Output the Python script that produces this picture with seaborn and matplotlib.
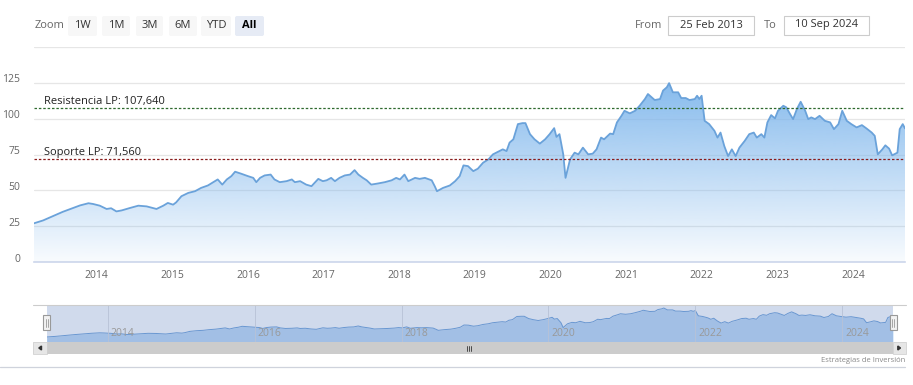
import numpy as np
import pandas as pd
import matplotlib
matplotlib.use("Agg")
import matplotlib.pyplot as plt
import matplotlib.transforms as mtrans
from matplotlib.patches import Rectangle, FancyBboxPatch
import seaborn as sns

# price series (decimal year, price)
years = [2013.17, 2013.29, 2013.42, 2013.55, 2013.69, 2013.78, 2013.89, 2013.95,
         2014.04, 2014.13, 2014.19, 2014.26, 2014.33, 2014.44, 2014.55, 2014.66,
         2014.79, 2014.88, 2014.94, 2015.01, 2015.05, 2015.10, 2015.12, 2015.21,
         2015.30, 2015.38, 2015.47, 2015.54, 2015.60, 2015.66, 2015.72, 2015.78,
         2015.83, 2015.91, 2016.00, 2016.07, 2016.11, 2016.16, 2016.22, 2016.30,
         2016.35, 2016.42, 2016.51, 2016.58, 2016.62, 2016.69, 2016.77, 2016.84,
         2016.93, 2016.99, 2017.04, 2017.10, 2017.15, 2017.21, 2017.28, 2017.35,
         2017.41, 2017.46, 2017.52, 2017.57, 2017.63, 2017.72, 2017.81, 2017.90,
         2017.96, 2018.01, 2018.07, 2018.12, 2018.21, 2018.27, 2018.34, 2018.43,
         2018.47, 2018.50, 2018.58, 2018.67, 2018.74, 2018.80, 2018.85, 2018.91,
         2018.98, 2019.04, 2019.11, 2019.18, 2019.24, 2019.31, 2019.37, 2019.42,
         2019.46, 2019.51, 2019.57, 2019.63, 2019.67, 2019.73, 2019.79, 2019.86,
         2019.93, 2019.99, 2020.05, 2020.08, 2020.12, 2020.17, 2020.20, 2020.26,
         2020.32, 2020.37, 2020.43, 2020.50, 2020.56, 2020.61, 2020.67, 2020.71,
         2020.79, 2020.83, 2020.88, 2020.94, 2020.98, 2021.05, 2021.12, 2021.18,
         2021.25, 2021.29, 2021.34, 2021.38, 2021.45, 2021.49, 2021.54, 2021.57,
         2021.62, 2021.69, 2021.73, 2021.79, 2021.84, 2021.91, 2021.94, 2021.97,
         2022.00, 2022.04, 2022.10, 2022.17, 2022.21, 2022.25, 2022.30, 2022.35,
         2022.40, 2022.45, 2022.50, 2022.57, 2022.63, 2022.69, 2022.73, 2022.79,
         2022.83, 2022.87, 2022.92, 2022.97, 2023.01, 2023.08, 2023.12, 2023.17,
         2023.21, 2023.26, 2023.31, 2023.37, 2023.41, 2023.45, 2023.50, 2023.56,
         2023.63, 2023.70, 2023.75, 2023.81, 2023.86, 2023.92, 2023.98, 2024.05,
         2024.12, 2024.18, 2024.25, 2024.29, 2024.33, 2024.39, 2024.43, 2024.48,
         2024.52, 2024.59, 2024.62, 2024.66, 2024.69]
prices = [27.0, 29.0, 32.0, 35.0, 37.7, 39.5, 41.0, 40.5,
          39.3, 37.0, 37.5, 35.3, 36.0, 37.7, 39.3, 38.8,
          37.0, 39.3, 41.2, 40.0, 41.6, 44.7, 45.9, 48.2,
          49.4, 51.7, 53.4, 55.7, 57.6, 54.0, 57.6, 59.9,
          63.0, 61.6, 59.9, 58.7, 55.7, 58.7, 60.4, 61.0,
          57.6, 55.7, 56.4, 57.6, 55.7, 56.4, 54.0, 52.9,
          58.0, 56.4, 57.0, 58.7, 56.4, 58.7, 60.4, 61.0,
          64.1, 61.0, 58.7, 57.0, 54.0, 54.8, 55.7, 57.0,
          58.7, 57.6, 61.0, 56.4, 58.7, 58.0, 58.7, 57.0,
          52.9, 49.4, 51.7, 53.4, 56.4, 59.9, 67.4, 66.9,
          63.4, 65.1, 69.3, 71.6, 75.1, 77.0, 78.6, 77.4,
          83.3, 85.6, 96.2, 96.9, 96.9, 89.2, 85.6, 82.6,
          85.6, 89.2, 93.4, 87.3, 89.2, 75.1, 58.7, 71.6,
          76.3, 75.1, 79.8, 75.1, 75.6, 78.6, 86.8, 85.6,
          89.6, 89.2, 97.4, 102.0, 105.5, 103.7, 105.5, 109.0,
          113.7, 117.2, 114.9, 113.0, 113.7, 119.6, 121.9, 124.8,
          118.4, 118.4, 114.4, 114.4, 113.0, 113.7, 116.0, 113.7,
          116.0, 98.5, 96.2, 91.5, 86.8, 90.3, 80.9, 73.9,
          78.6, 73.9, 79.8, 84.5, 89.2, 90.3, 86.8, 89.2,
          86.8, 97.4, 102.5, 100.2, 105.5, 109.0, 107.9, 103.2,
          99.7, 106.7, 111.8, 105.5, 99.7, 100.9, 99.7, 102.0,
          98.5, 97.4, 92.7, 96.2, 105.5, 98.5, 96.2, 93.9,
          95.5, 93.2, 90.3, 88.0, 75.1, 78.6, 81.4, 79.1,
          74.4, 76.3, 92.7, 96.2, 93.2]

resistencia = 107.64
soporte = 71.56
y_ticks = [0, 25, 50, 75, 100, 125, 150]
year_ticks = list(range(2014, 2025))
nav_ticks = [2014, 2016, 2018, 2020, 2022, 2024]
zoom_buttons = ["1W", "1M", "3M", "6M", "YTD", "All"]
date_from = "25 Feb 2013"
date_to = "10 Sep 2024"

df = pd.DataFrame({"year": years, "price": prices})

sns.set_style("white")
plt.rcParams["font.family"] = ["Open Sans", "DejaVu Sans"]

W, H = 913, 385
fig = plt.figure(figsize=(W / 100, H / 100), dpi=100)


def box(x0, y0, x1, y1):
    # pixel box (top-left origin) -> figure rect
    return [x0 / W, 1 - y1 / H, (x1 - x0) / W, (y1 - y0) / H]


xmin, xmax = years[0], years[-1]
line_col = "#6aa2da"
area_rgb = np.array([124, 181, 236]) / 255

# ---- main chart
ax = fig.add_axes(box(34, 47, 905, 262))
poly = ax.fill_between(df["year"], df["price"], 0, color="none", lw=0)
grad = np.linspace(0, 1, 256)
rgba = np.zeros((256, 1, 4))
rgba[:, 0, :3] = area_rgb
rgba[:, 0, 3] = 0.05 + 0.87 * grad
img = ax.imshow(rgba, extent=[xmin, xmax, 0, 125], origin="lower",
                aspect="auto", zorder=1)
img.set_clip_path(poly.get_paths()[0], transform=ax.transData)
sns.lineplot(data=df, x="year", y="price", ax=ax, color=line_col, lw=1.3,
             estimator=None, zorder=3)

ax.axhline(resistencia, color="#2f6a2f", lw=0.9, ls=(0, (2, 1.5)), zorder=4)
ax.axhline(soporte, color="#8a1c1c", lw=0.9, ls=(0, (2, 1.5)), zorder=4)
ax.text(0.0115, resistencia + 0.8, "Resistencia LP: 107,640", transform=ax.get_yaxis_transform(),
        fontsize=8, color="#222222", va="bottom", ha="left", zorder=5)
ax.text(0.0115, soporte + 0.8, "Soporte LP: 71,560", transform=ax.get_yaxis_transform(),
        fontsize=8, color="#222222", va="bottom", ha="left", zorder=5)

ax.set_xlim(xmin, xmax)
ax.set_ylim(0, 150)
ax.set_yticks(y_ticks)
ax.set_yticklabels([str(v) if v < 150 else "" for v in y_ticks])
ax.set_xticks(year_ticks)
ax.set_xticklabels([str(y) for y in year_ticks])
ax.grid(axis="y", color="#e6e6e6", lw=0.9)
ax.grid(axis="x", visible=False)
ax.tick_params(axis="y", length=0, pad=10, labelsize=7.5, labelcolor="#666666")
ax.tick_params(axis="x", length=4, width=0.8, color="#ccd6eb", pad=2,
               labelsize=7.5, labelcolor="#666666")
# lift y labels a few pixels above their gridlines
off = mtrans.ScaledTranslation(0, 4.5 / 100, fig.dpi_scale_trans)
for t in ax.get_yticklabels():
    t.set_transform(t.get_transform() + off)
for s in ["top", "right", "left"]:
    ax.spines[s].set_visible(False)
ax.spines["bottom"].set_color("#ccd6eb")
ax.spines["bottom"].set_linewidth(1.2)
ax.set_xlabel("")
ax.set_ylabel("")

# ---- navigator
nav = fig.add_axes(box(46.7, 305, 893, 341.7))
nav.fill_between(df["year"], df["price"], 0, color="#7cb5ec", alpha=0.5, lw=0)
sns.lineplot(data=df, x="year", y="price", ax=nav, color="#6a9fd8", lw=0.7,
             estimator=None)
nav.axvspan(xmin, xmax, color=(102 / 255, 133 / 255, 194 / 255), alpha=0.3, lw=0, zorder=3)
for yr in nav_ticks:
    nav.axvline(yr, color="#b8c2d6", lw=0.6, zorder=4)
    nav.text(yr + 0.04, 0.07, str(yr), transform=nav.get_xaxis_transform(),
             fontsize=7.5, color="#999999", ha="left", va="bottom", zorder=5)
nav.set_xlim(xmin, xmax)
nav.set_ylim(11, 135)
nav.set_xticks([])
nav.set_yticks([])
nav.set_xlabel("")
nav.set_ylabel("")
for s in nav.spines.values():
    s.set_visible(False)

# ---- UI overlay (buttons, inputs, scrollbar)
ui = fig.add_axes([0, 0, 1, 1])
ui.set_xlim(0, W)
ui.set_ylim(H, 0)
ui.axis("off")

ui.text(35, 26, "Zoom", fontsize=8, color="#666666", va="center", ha="left")
btn_x = [68, 102, 136, 169, 201, 235]
btn_w = [29, 28, 27, 28, 30, 29]
for lab, bx, bw in zip(zoom_buttons, btn_x, btn_w):
    sel = lab == "All"
    ui.add_patch(FancyBboxPatch((bx, 16), bw, 20, boxstyle="round,pad=0,rounding_size=2",
                                fc="#e6ebf5" if sel else "#f7f7f7", ec="none"))
    ui.text(bx + bw / 2, 26, lab, fontsize=8, ha="center", va="center",
            color="#000000" if sel else "#333333", fontweight="bold" if sel else "normal")

ui.text(635, 25, "From", fontsize=8, color="#666666", va="center", ha="left")
ui.add_patch(Rectangle((668, 16), 86, 19, fc="white", ec="#cccccc", lw=0.8))
ui.text(711, 25, date_from, fontsize=8, color="#333333", va="center", ha="center")
ui.text(764, 25, "To", fontsize=8, color="#666666", va="center", ha="left")
ui.add_patch(Rectangle((784, 16), 85, 19, fc="white", ec="#cccccc", lw=0.8))
ui.text(826.5, 25, date_to, fontsize=8, color="#333333", va="center", ha="center")

# navigator outline and handles
ui.plot([33, 906], [305, 305], color="#cccccc", lw=0.8)
for hx in [46.7, 893]:
    ui.add_patch(Rectangle((hx - 3.5, 315), 7, 15, fc="#f2f2f2", ec="#999999", lw=0.8, zorder=6))
    ui.plot([hx - 1, hx - 1], [318.5, 326.5], color="#999999", lw=0.6, zorder=7)
    ui.plot([hx + 1, hx + 1], [318.5, 326.5], color="#999999", lw=0.6, zorder=7)

# scrollbar
ui.add_patch(Rectangle((33.3, 341.7), 872.7, 12.6, fc="#f2f2f2", ec="none"))
ui.add_patch(Rectangle((46.7, 341.7), 846.3, 12.6, fc="#cccccc", ec="none"))
ui.add_patch(Rectangle((33.3, 341.7), 13.4, 12.6, fc="#e6e6e6", ec="#cccccc", lw=0.5))
ui.add_patch(Rectangle((893, 341.7), 13, 12.6, fc="#e6e6e6", ec="#cccccc", lw=0.5))
ui.fill([38.8, 41.5, 41.5], [348, 346, 350], color="#333333")
ui.fill([900.5, 897.8, 897.8], [348, 346, 350], color="#333333")
for gx in [467, 469, 471]:
    ui.plot([gx, gx], [345.5, 350.5], color="#333333", lw=0.6)

ui.plot([0, 905], [367, 367], color="#cfd3dc", lw=0.9)
ui.text(905, 360, "Estrategias de Inversión", fontsize=5.5, color="#888888",
        ha="right", va="center")

fig.savefig("out.png", dpi=100)
